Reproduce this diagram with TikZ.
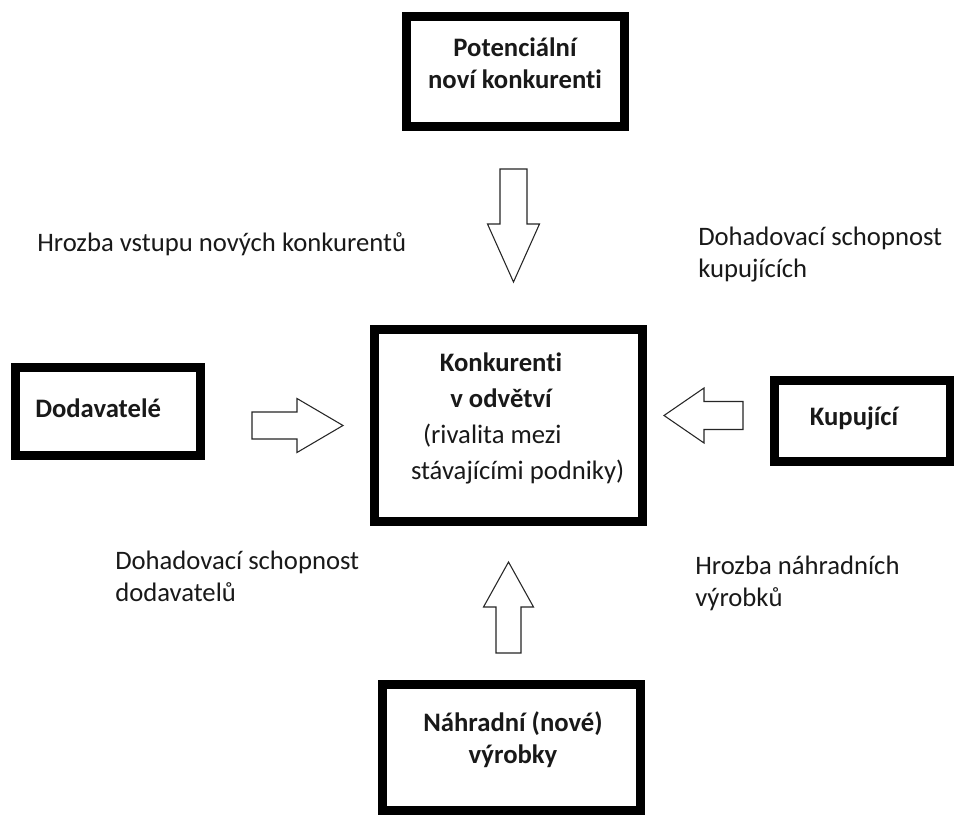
\documentclass[tikz,border=0pt]{standalone}
\usepackage{fontspec}
\setmainfont[Ligatures=NoCommon]{Carlito}
\newcommand\myblockarrow[7]{%
  \draw[arrowline,shift={(#1,#2)},rotate=#3]
    (0,-#6) -- ({#4-#5},-#6) -- ({#4-#5},-#7) -- (#4,0) --
    ({#4-#5},#7) -- ({#4-#5},#6) -- (0,#6) -- cycle;}
\begin{document}
\begin{tikzpicture}[x=0.75pt,y=-0.75pt,
  box/.style={draw=black,line width=6.75pt,rectangle,inner sep=0pt,fill=white},
  boxtext/.style={font=\bfseries\fontsize{20pt}{24pt}\selectfont,align=center,inner sep=0pt,text=black!90},
  lbl/.style={font=\fontsize{20pt}{24.5pt}\selectfont,align=left,inner sep=0pt,text=black!90,anchor=base west},
  arrowline/.style={draw=black!85,line width=0.8pt,fill=white,line join=miter}]
\useasboundingbox (0,0) rectangle (954,816);
\fill[white] (0,0) rectangle (954,816);

% boxes
\node[box,minimum width=218*0.75pt,minimum height=110*0.75pt] (top) at (515.5,71.5) {};
\node[box,minimum width=268*0.75pt,minimum height=192*0.75pt] (mid) at (508.5,425.5) {};
\node[box,minimum width=185*0.75pt,minimum height=88*0.75pt] (left) at (108,411.5) {};
\node[box,minimum width=176*0.75pt,minimum height=81*0.75pt] (right) at (862,421) {};
\node[box,minimum width=258*0.75pt,minimum height=126*0.75pt] (bot) at (511.5,747.5) {};

% box texts
\node[boxtext] (topT) at (515,63) {Potenciální\\noví konkurenti};
\node[boxtext,font=\bfseries\fontsize{20pt}{27pt}\selectfont] (midT) at (501,418)
  {Konkurenti\\v odvětví\\\mdseries\hspace*{-13pt}(rivalita mezi\\\mdseries\hspace*{25pt}stávajícími podniky)};
\node[boxtext,anchor=west] (leftT) at (35,408) {Dodavatelé};
\node[boxtext] (rightT) at (854,418) {Kupující};
\node[boxtext] (botT) at (513,740) {Náhradní (nové)\\výrobky};

% labels (anchor = baseline of the last line)
\node[lbl] (l1) at (37,252) {Hrozba vstupu nových konkurentů};
\node[lbl] (l2) at (698,278) {Dohadovací schopnost\\kupujících};
\node[lbl] (l3) at (115,602) {Dohadovací schopnost\\dodavatelů};
\node[lbl] (l4) at (695,607) {Hrozba náhradních\\výrobků};

% block arrows: x y rot length headlen shafthalf headhalf
\myblockarrow{513.5}{169}{-90}{113}{58}{13.5}{26}
\myblockarrow{252}{425.5}{0}{91}{46}{13.5}{27}
\myblockarrow{743}{415.5}{180}{79}{40}{14}{27.5}
\myblockarrow{508.5}{653}{90}{91}{45}{12.5}{25}
\end{tikzpicture}
\end{document}
